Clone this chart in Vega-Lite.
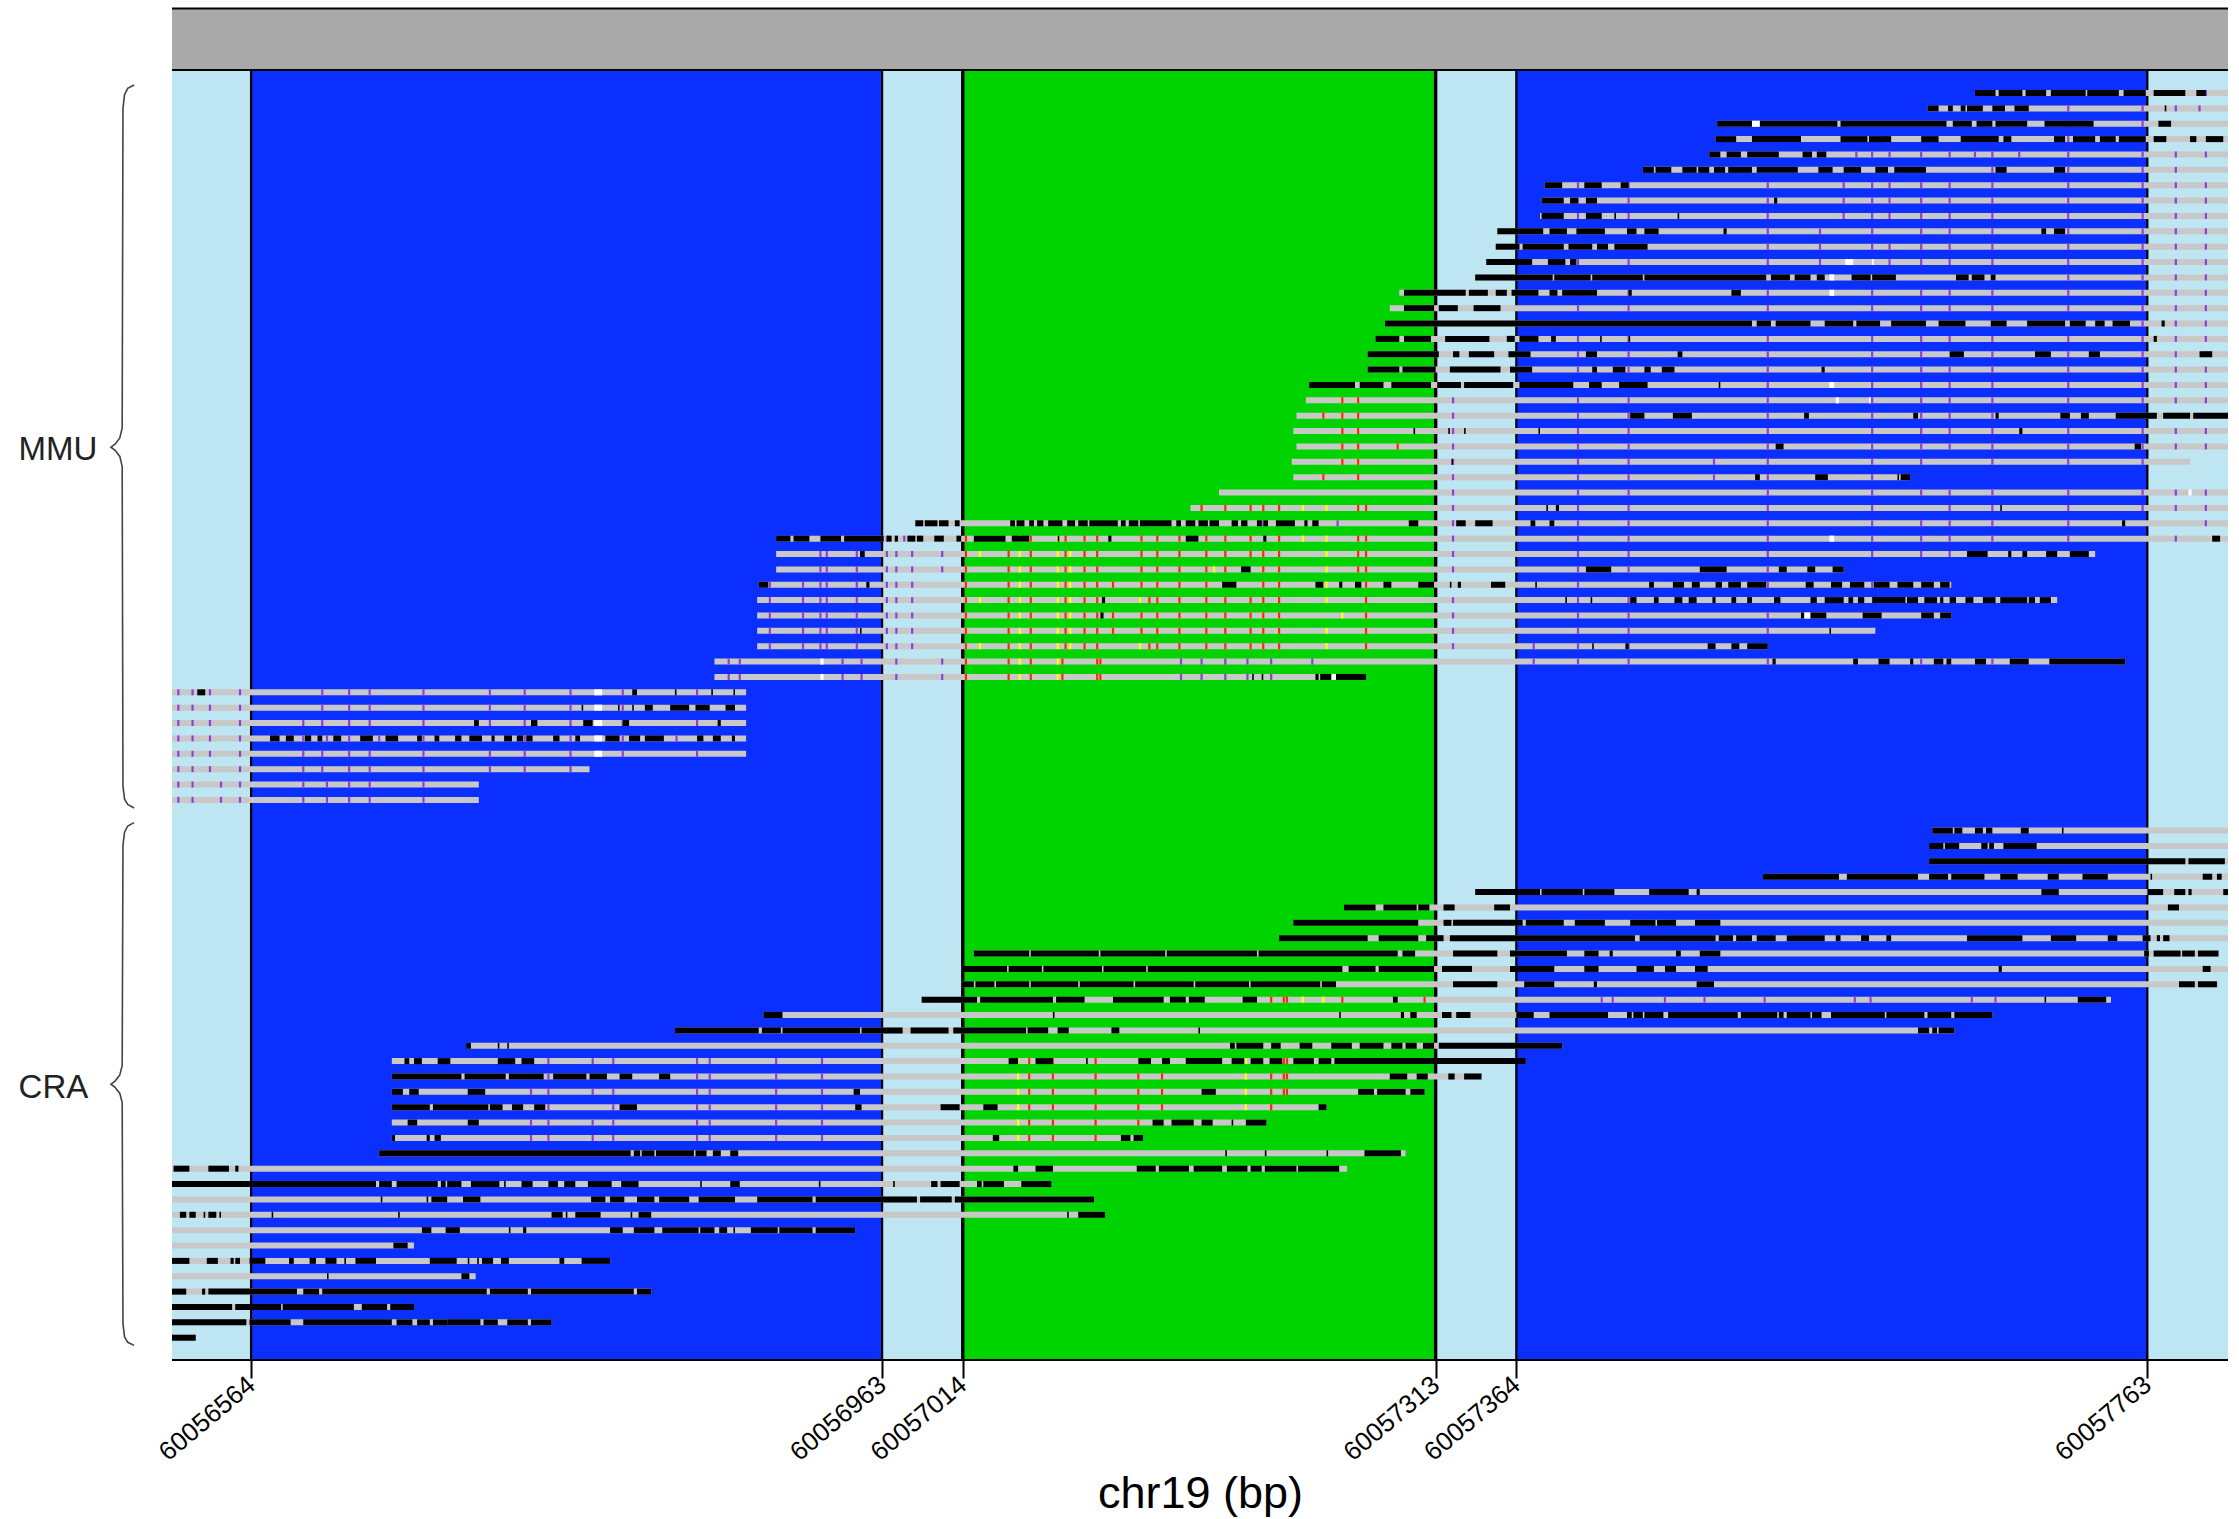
{"$schema":"https://vega.github.io/schema/vega-lite/v6.json","autosize":{"type":"none"},"padding":{"left":172,"top":8.5,"right":11,"bottom":159},"width":2056,"height":1351.5,"background":"white","view":{"stroke":null},
"datasets":{
"regions":[{"s":60056514,"e":60057814,"r":-5.5,"b":-1.5,"kind":"header"},{"s":60056514,"e":60056564,"r":-1.5,"b":82.45,"kind":"flank"},{"s":60056564,"e":60056963,"r":-1.5,"b":82.45,"kind":"outer"},{"s":60056963,"e":60057014,"r":-1.5,"b":82.45,"kind":"flank"},{"s":60057014,"e":60057313,"r":-1.5,"b":82.45,"kind":"core"},{"s":60057313,"e":60057364,"r":-1.5,"b":82.45,"kind":"flank"},{"s":60057364,"e":60057763,"r":-1.5,"b":82.45,"kind":"outer"},{"s":60057763,"e":60057814,"r":-1.5,"b":82.45,"kind":"flank"}],
"frame":[{"s":60056514,"e":60057814,"r":-5.5},{"s":60056514,"e":60057814,"r":-1.5},{"s":60056514,"e":60057814,"r":82.45}],
"thin":[{"s":60056564,"r":-1.5,"b":82.45},{"s":60056963,"r":-1.5,"b":82.45},{"s":60057364,"r":-1.5,"b":82.45},{"s":60057763,"r":-1.5,"b":82.45}],
"thick":[{"s":60057014,"r":-1.5,"b":82.45},{"s":60057313,"r":-1.5,"b":82.45}],
"labels":[{"label":"MMU","s":60056417,"r":23.25},{"label":"CRA","s":60056417,"r":64.75}],
"brace":[{"g":"MMU","o":1,"s":60056490,"r":-0.52},{"g":"MMU","o":2,"s":60056486,"r":-0.3},{"g":"MMU","o":3,"s":60056484,"r":0.1},{"g":"MMU","o":4,"s":60056483,"r":1},{"g":"MMU","o":5,"s":60056482.5,"r":21.8},{"g":"MMU","o":6,"s":60056481,"r":22.45},{"g":"MMU","o":7,"s":60056478,"r":22.85},{"g":"MMU","o":8,"s":60056475.4,"r":23.05},{"g":"MMU","o":9,"s":60056478,"r":23.25},{"g":"MMU","o":10,"s":60056481,"r":23.65},{"g":"MMU","o":11,"s":60056482.5,"r":24.3},{"g":"MMU","o":12,"s":60056483,"r":45.1},{"g":"MMU","o":13,"s":60056484,"r":45.95},{"g":"MMU","o":14,"s":60056486,"r":46.3},{"g":"MMU","o":15,"s":60056490,"r":46.53},{"g":"CRA","o":1,"s":60056490,"r":47.48},{"g":"CRA","o":2,"s":60056486,"r":47.7},{"g":"CRA","o":3,"s":60056484,"r":48.1},{"g":"CRA","o":4,"s":60056483,"r":48.95},{"g":"CRA","o":5,"s":60056482.5,"r":63.3},{"g":"CRA","o":6,"s":60056481,"r":63.9},{"g":"CRA","o":7,"s":60056478,"r":64.3},{"g":"CRA","o":8,"s":60056475.4,"r":64.5},{"g":"CRA","o":9,"s":60056478,"r":64.7},{"g":"CRA","o":10,"s":60056481,"r":65.1},{"g":"CRA","o":11,"s":60056482.5,"r":65.7},{"g":"CRA","o":12,"s":60056483,"r":80.1},{"g":"CRA","o":13,"s":60056484,"r":80.95},{"g":"CRA","o":14,"s":60056486,"r":81.3},{"g":"CRA","o":15,"s":60056490,"r":81.5}],
"reads":[{"r":0,"s":60057654,"e":60057814},{"r":1,"s":60057624,"e":60057814},{"r":2,"s":60057491,"e":60057814},{"r":3,"s":60057490,"e":60057814},{"r":4,"s":60057486,"e":60057814},{"r":5,"s":60057444,"e":60057814},{"r":6,"s":60057382,"e":60057814},{"r":7,"s":60057380,"e":60057814},{"r":8,"s":60057379,"e":60057814},{"r":9,"s":60057352,"e":60057814},{"r":10,"s":60057351,"e":60057814},{"r":11,"s":60057345,"e":60057814},{"r":12,"s":60057338,"e":60057814},{"r":13,"s":60057290,"e":60057814},{"r":14,"s":60057284,"e":60057814},{"r":15,"s":60057281,"e":60057814},{"r":16,"s":60057275,"e":60057814},{"r":17,"s":60057270,"e":60057814},{"r":18,"s":60057270,"e":60057814},{"r":19,"s":60057233,"e":60057814},{"r":20,"s":60057231,"e":60057814},{"r":21,"s":60057225,"e":60057814},{"r":22,"s":60057223,"e":60057814},{"r":23,"s":60057225,"e":60057814},{"r":24,"s":60057222,"e":60057790},{"r":25,"s":60057223,"e":60057613},{"r":26,"s":60057176,"e":60057814},{"r":27,"s":60057158,"e":60057814},{"r":28,"s":60056984,"e":60057814},{"r":29,"s":60056896,"e":60057814},{"r":30,"s":60056896,"e":60057730},{"r":31,"s":60056896,"e":60057571},{"r":32,"s":60056885,"e":60057639},{"r":33,"s":60056884,"e":60057706},{"r":34,"s":60056884,"e":60057639},{"r":35,"s":60056884,"e":60057591},{"r":36,"s":60056884,"e":60057523},{"r":37,"s":60056857,"e":60057749},{"r":38,"s":60056857,"e":60057269},{"r":39,"s":60056514,"e":60056877},{"r":40,"s":60056514,"e":60056877},{"r":41,"s":60056514,"e":60056877},{"r":42,"s":60056514,"e":60056877},{"r":43,"s":60056514,"e":60056877},{"r":44,"s":60056514,"e":60056778},{"r":45,"s":60056514,"e":60056708},{"r":46,"s":60056514,"e":60056708},{"r":48,"s":60057627,"e":60057814},{"r":49,"s":60057625,"e":60057814},{"r":50,"s":60057625,"e":60057814},{"r":51,"s":60057520,"e":60057814},{"r":52,"s":60057338,"e":60057814},{"r":53,"s":60057255,"e":60057814},{"r":54,"s":60057223,"e":60057814},{"r":55,"s":60057214,"e":60057814},{"r":56,"s":60057021,"e":60057808},{"r":57,"s":60057013,"e":60057814},{"r":58,"s":60057013,"e":60057808},{"r":59,"s":60056988,"e":60057740},{"r":60,"s":60056888,"e":60057665},{"r":61,"s":60056832,"e":60057641},{"r":62,"s":60056700,"e":60057393},{"r":63,"s":60056653,"e":60057370},{"r":64,"s":60056653,"e":60057342},{"r":65,"s":60056653,"e":60057306},{"r":66,"s":60056653,"e":60057244},{"r":67,"s":60056653,"e":60057206},{"r":68,"s":60056653,"e":60057128},{"r":69,"s":60056645,"e":60057294},{"r":70,"s":60056514,"e":60057257},{"r":71,"s":60056514,"e":60057070},{"r":72,"s":60056514,"e":60057097},{"r":73,"s":60056514,"e":60057104},{"r":74,"s":60056514,"e":60056946},{"r":75,"s":60056514,"e":60056667},{"r":76,"s":60056514,"e":60056791},{"r":77,"s":60056514,"e":60056706},{"r":78,"s":60056514,"e":60056817},{"r":79,"s":60056514,"e":60056667},{"r":80,"s":60056514,"e":60056754},{"r":81,"s":60056514,"e":60056529}],
"white":[{"r":11,"s":60057572,"e":60057577},{"r":11,"s":60057589,"e":60057590},{"r":12,"s":60057562,"e":60057565},{"r":13,"s":60057562,"e":60057565},{"r":19,"s":60057562,"e":60057565},{"r":20,"s":60057566,"e":60057568},{"r":20,"s":60057587,"e":60057588},{"r":26,"s":60057789,"e":60057791},{"r":29,"s":60057562,"e":60057565},{"r":34,"s":60057546,"e":60057550},{"r":38,"s":60056924,"e":60056926},{"r":37,"s":60056924,"e":60056926},{"r":38,"s":60057247,"e":60057250},{"r":39,"s":60056781,"e":60056786},{"r":40,"s":60056781,"e":60056786},{"r":41,"s":60056781,"e":60056786},{"r":42,"s":60056781,"e":60056786},{"r":43,"s":60056781,"e":60056786},{"r":2,"s":60057513,"e":60057518}],
"black":[{"r":0,"s":60057654,"e":60057667},{"r":0,"s":60057669,"e":60057684},{"r":0,"s":60057686,"e":60057699},{"r":0,"s":60057702,"e":60057724},{"r":0,"s":60057725,"e":60057745},{"r":0,"s":60057748,"e":60057762},{"r":0,"s":60057767,"e":60057787},{"r":0,"s":60057794,"e":60057800},
{"r":1,"s":60057624,"e":60057631},{"r":1,"s":60057637,"e":60057640},{"r":1,"s":60057645,"e":60057648},{"r":1,"s":60057649,"e":60057659},{"r":1,"s":60057665,"e":60057673},{"r":1,"s":60057679,"e":60057688},{"r":1,"s":60057774,"e":60057775},
{"r":2,"s":60057491,"e":60057513},{"r":2,"s":60057518,"e":60057567},{"r":2,"s":60057569,"e":60057636},{"r":2,"s":60057640,"e":60057652},{"r":2,"s":60057655,"e":60057665},{"r":2,"s":60057667,"e":60057687},{"r":2,"s":60057698,"e":60057729},{"r":2,"s":60057770,"e":60057778},
{"r":3,"s":60057490,"e":60057503},{"r":3,"s":60057513,"e":60057544},{"r":3,"s":60057569,"e":60057586},{"r":3,"s":60057587,"e":60057601},{"r":3,"s":60057620,"e":60057631},{"r":3,"s":60057645,"e":60057669},{"r":3,"s":60057672,"e":60057677},{"r":3,"s":60057704,"e":60057711},{"r":3,"s":60057716,"e":60057730},{"r":3,"s":60057733,"e":60057743},{"r":3,"s":60057745,"e":60057762},{"r":3,"s":60057767,"e":60057775},{"r":3,"s":60057790,"e":60057794},{"r":3,"s":60057800,"e":60057811},
{"r":4,"s":60057486,"e":60057493},{"r":4,"s":60057497,"e":60057506},{"r":4,"s":60057510,"e":60057530},{"r":4,"s":60057545,"e":60057551},{"r":4,"s":60057554,"e":60057560},
{"r":5,"s":60057444,"e":60057451},{"r":5,"s":60057452,"e":60057462},{"r":5,"s":60057469,"e":60057478},{"r":5,"s":60057479,"e":60057486},{"r":5,"s":60057489,"e":60057496},{"r":5,"s":60057498,"e":60057513},{"r":5,"s":60057516,"e":60057542},{"r":5,"s":60057555,"e":60057564},{"r":5,"s":60057571,"e":60057582},{"r":5,"s":60057591,"e":60057599},{"r":5,"s":60057603,"e":60057623},{"r":5,"s":60057667,"e":60057674},{"r":5,"s":60057704,"e":60057711},
{"r":6,"s":60057382,"e":60057393},{"r":6,"s":60057407,"e":60057418},{"r":6,"s":60057430,"e":60057435},
{"r":7,"s":60057380,"e":60057394},{"r":7,"s":60057398,"e":60057403},{"r":7,"s":60057408,"e":60057415},{"r":7,"s":60057527,"e":60057529},
{"r":8,"s":60057380,"e":60057394},{"r":8,"s":60057408,"e":60057418},{"r":8,"s":60057426,"e":60057427},{"r":8,"s":60057466,"e":60057467},
{"r":9,"s":60057352,"e":60057381},{"r":9,"s":60057385,"e":60057396},{"r":9,"s":60057402,"e":60057420},{"r":9,"s":60057434,"e":60057440},{"r":9,"s":60057445,"e":60057454},{"r":9,"s":60057495,"e":60057497},{"r":9,"s":60057696,"e":60057699},{"r":9,"s":60057704,"e":60057711},
{"r":10,"s":60057351,"e":60057366},{"r":10,"s":60057368,"e":60057394},{"r":10,"s":60057397,"e":60057412},{"r":10,"s":60057415,"e":60057422},{"r":10,"s":60057426,"e":60057447},
{"r":11,"s":60057345,"e":60057374},{"r":11,"s":60057384,"e":60057395},{"r":11,"s":60057398,"e":60057402},
{"r":12,"s":60057338,"e":60057387},{"r":12,"s":60057388,"e":60057411},{"r":12,"s":60057412,"e":60057444},{"r":12,"s":60057445,"e":60057522},{"r":12,"s":60057525,"e":60057537},{"r":12,"s":60057540,"e":60057550},{"r":12,"s":60057554,"e":60057559},{"r":12,"s":60057576,"e":60057588},{"r":12,"s":60057589,"e":60057604},{"r":12,"s":60057642,"e":60057650},{"r":12,"s":60057652,"e":60057660},{"r":12,"s":60057664,"e":60057667},
{"r":13,"s":60057293,"e":60057332},{"r":13,"s":60057334,"e":60057346},{"r":13,"s":60057351,"e":60057358},{"r":13,"s":60057361,"e":60057378},{"r":13,"s":60057385,"e":60057390},{"r":13,"s":60057393,"e":60057415},{"r":13,"s":60057435,"e":60057437},{"r":13,"s":60057500,"e":60057506},
{"r":14,"s":60057293,"e":60057312},{"r":14,"s":60057315,"e":60057327},{"r":14,"s":60057337,"e":60057354},
{"r":15,"s":60057281,"e":60057513},{"r":15,"s":60057516,"e":60057525},{"r":15,"s":60057528,"e":60057550},{"r":15,"s":60057559,"e":60057577},{"r":15,"s":60057579,"e":60057594},{"r":15,"s":60057601,"e":60057623},{"r":15,"s":60057631,"e":60057648},{"r":15,"s":60057664,"e":60057674},{"r":15,"s":60057687,"e":60057711},{"r":15,"s":60057714,"e":60057724},{"r":15,"s":60057730,"e":60057736},{"r":15,"s":60057741,"e":60057752},{"r":15,"s":60057772,"e":60057774},
{"r":16,"s":60057275,"e":60057290},{"r":16,"s":60057293,"e":60057310},{"r":16,"s":60057319,"e":60057347},{"r":16,"s":60057358,"e":60057363},{"r":16,"s":60057366,"e":60057378},{"r":16,"s":60057386,"e":60057389},{"r":16,"s":60057417,"e":60057418},{"r":16,"s":60057435,"e":60057436},{"r":16,"s":60057767,"e":60057769},
{"r":17,"s":60057270,"e":60057315},{"r":17,"s":60057324,"e":60057328},{"r":17,"s":60057334,"e":60057350},{"r":17,"s":60057359,"e":60057373},{"r":17,"s":60057408,"e":60057415},{"r":17,"s":60057466,"e":60057469},{"r":17,"s":60057638,"e":60057647},{"r":17,"s":60057692,"e":60057702},{"r":17,"s":60057726,"e":60057733},{"r":17,"s":60057796,"e":60057804},
{"r":18,"s":60057270,"e":60057290},{"r":18,"s":60057292,"e":60057313},{"r":18,"s":60057322,"e":60057354},{"r":18,"s":60057360,"e":60057374},{"r":18,"s":60057412,"e":60057415},{"r":18,"s":60057425,"e":60057433},{"r":18,"s":60057445,"e":60057449},{"r":18,"s":60057456,"e":60057464},{"r":18,"s":60057557,"e":60057559},
{"r":19,"s":60057233,"e":60057262},{"r":19,"s":60057265,"e":60057280},{"r":19,"s":60057285,"e":60057310},{"r":19,"s":60057314,"e":60057329},{"r":19,"s":60057331,"e":60057362},{"r":19,"s":60057366,"e":60057400},{"r":19,"s":60057410,"e":60057418},{"r":19,"s":60057429,"e":60057447},{"r":19,"s":60057492,"e":60057493},
{"r":21,"s":60057436,"e":60057445},{"r":21,"s":60057463,"e":60057475},{"r":21,"s":60057546,"e":60057549},{"r":21,"s":60057615,"e":60057618},{"r":21,"s":60057667,"e":60057669},{"r":21,"s":60057708,"e":60057714},{"r":21,"s":60057721,"e":60057726},{"r":21,"s":60057743,"e":60057769},{"r":21,"s":60057773,"e":60057790},{"r":21,"s":60057792,"e":60057814},
{"r":22,"s":60057299,"e":60057300},{"r":22,"s":60057321,"e":60057322},{"r":22,"s":60057331,"e":60057332},{"r":22,"s":60057378,"e":60057379},{"r":22,"s":60057682,"e":60057684},
{"r":23,"s":60057528,"e":60057533},{"r":23,"s":60057755,"e":60057759},{"r":24,"s":60057323,"e":60057324},
{"r":25,"s":60057515,"e":60057518},{"r":25,"s":60057553,"e":60057561},{"r":25,"s":60057605,"e":60057606},{"r":25,"s":60057607,"e":60057613},
{"r":27,"s":60057383,"e":60057384},{"r":27,"s":60057389,"e":60057391},{"r":27,"s":60057670,"e":60057671},
{"r":28,"s":60056984,"e":60056989},{"r":28,"s":60056990,"e":60056998},{"r":28,"s":60056999,"e":60057005},{"r":28,"s":60057009,"e":60057012},{"r":28,"s":60057044,"e":60057047},{"r":28,"s":60057048,"e":60057053},{"r":28,"s":60057056,"e":60057059},{"r":28,"s":60057061,"e":60057065},{"r":28,"s":60057068,"e":60057077},{"r":28,"s":60057080,"e":60057085},{"r":28,"s":60057087,"e":60057093},{"r":28,"s":60057094,"e":60057112},{"r":28,"s":60057114,"e":60057117},{"r":28,"s":60057119,"e":60057125},{"r":28,"s":60057126,"e":60057146},{"r":28,"s":60057149,"e":60057152},{"r":28,"s":60057155,"e":60057161},{"r":28,"s":60057163,"e":60057169},{"r":28,"s":60057170,"e":60057176},{"r":28,"s":60057184,"e":60057188},{"r":28,"s":60057190,"e":60057194},{"r":28,"s":60057200,"e":60057203},{"r":28,"s":60057204,"e":60057207},{"r":28,"s":60057212,"e":60057224},{"r":28,"s":60057230,"e":60057232},{"r":28,"s":60057235,"e":60057239},{"r":28,"s":60057296,"e":60057302},{"r":28,"s":60057326,"e":60057332},{"r":28,"s":60057338,"e":60057349},{"r":28,"s":60057373,"e":60057376},{"r":28,"s":60057385,"e":60057388},{"r":28,"s":60057747,"e":60057749},
{"r":29,"s":60056896,"e":60056905},{"r":29,"s":60056907,"e":60056917},{"r":29,"s":60056924,"e":60056937},{"r":29,"s":60056939,"e":60056964},{"r":29,"s":60056966,"e":60056969},{"r":29,"s":60056971,"e":60056973},{"r":29,"s":60056979,"e":60056984},{"r":29,"s":60056985,"e":60056989},{"r":29,"s":60056996,"e":60057002},{"r":29,"s":60057010,"e":60057013},{"r":29,"s":60057021,"e":60057041},{"r":29,"s":60057045,"e":60057056},{"r":29,"s":60057074,"e":60057075},{"r":29,"s":60057106,"e":60057108},{"r":29,"s":60057155,"e":60057163},{"r":29,"s":60057204,"e":60057206},{"r":29,"s":60057804,"e":60057809},
{"r":30,"s":60056949,"e":60056952},{"r":30,"s":60057649,"e":60057662},{"r":30,"s":60057675,"e":60057677},{"r":30,"s":60057684,"e":60057687},{"r":30,"s":60057699,"e":60057706},{"r":30,"s":60057714,"e":60057726},
{"r":31,"s":60057190,"e":60057196},{"r":31,"s":60057408,"e":60057424},{"r":31,"s":60057480,"e":60057497},{"r":31,"s":60057530,"e":60057535},{"r":31,"s":60057548,"e":60057553},{"r":31,"s":60057564,"e":60057571},
{"r":32,"s":60056885,"e":60056891},{"r":32,"s":60056953,"e":60056955},{"r":32,"s":60057178,"e":60057187},{"r":32,"s":60057237,"e":60057242},{"r":32,"s":60057252,"e":60057254},{"r":32,"s":60057262,"e":60057266},{"r":32,"s":60057280,"e":60057285},{"r":32,"s":60057302,"e":60057312},{"r":32,"s":60057322,"e":60057323},{"r":32,"s":60057327,"e":60057329},{"r":32,"s":60057348,"e":60057357},{"r":32,"s":60057376,"e":60057377},{"r":32,"s":60057448,"e":60057451},{"r":32,"s":60057463,"e":60057470},{"r":32,"s":60057475,"e":60057480},{"r":32,"s":60057490,"e":60057494},{"r":32,"s":60057498,"e":60057506},{"r":32,"s":60057510,"e":60057522},{"r":32,"s":60057547,"e":60057552},{"r":32,"s":60057563,"e":60057570},{"r":32,"s":60057575,"e":60057584},{"r":32,"s":60057590,"e":60057600},{"r":32,"s":60057605,"e":60057615},{"r":32,"s":60057620,"e":60057628},{"r":32,"s":60057632,"e":60057638},
{"r":33,"s":60057102,"e":60057104},{"r":33,"s":60057395,"e":60057396},{"r":33,"s":60057411,"e":60057412},{"r":33,"s":60057436,"e":60057440},{"r":33,"s":60057451,"e":60057454},{"r":33,"s":60057464,"e":60057469},{"r":33,"s":60057473,"e":60057478},{"r":33,"s":60057488,"e":60057490},{"r":33,"s":60057500,"e":60057503},{"r":33,"s":60057510,"e":60057513},{"r":33,"s":60057527,"e":60057531},{"r":33,"s":60057550,"e":60057554},{"r":33,"s":60057559,"e":60057571},{"r":33,"s":60057574,"e":60057577},{"r":33,"s":60057580,"e":60057584},{"r":33,"s":60057589,"e":60057610},{"r":33,"s":60057611,"e":60057618},{"r":33,"s":60057622,"e":60057630},{"r":33,"s":60057632,"e":60057634},{"r":33,"s":60057638,"e":60057642},{"r":33,"s":60057648,"e":60057653},{"r":33,"s":60057659,"e":60057667},{"r":33,"s":60057670,"e":60057687},{"r":33,"s":60057688,"e":60057692},{"r":33,"s":60057695,"e":60057702},
{"r":34,"s":60057544,"e":60057546},{"r":34,"s":60057550,"e":60057560},{"r":34,"s":60057583,"e":60057595},{"r":34,"s":60057620,"e":60057628},{"r":34,"s":60057632,"e":60057639},{"r":34,"s":60057101,"e":60057103},
{"r":35,"s":60057562,"e":60057563},{"r":35,"s":60056949,"e":60056950},
{"r":36,"s":60057412,"e":60057413},{"r":36,"s":60057433,"e":60057435},{"r":36,"s":60057485,"e":60057490},{"r":36,"s":60057500,"e":60057505},{"r":36,"s":60057510,"e":60057523},
{"r":37,"s":60057526,"e":60057528},{"r":37,"s":60057577,"e":60057580},{"r":37,"s":60057593,"e":60057600},{"r":37,"s":60057613,"e":60057615},{"r":37,"s":60057628,"e":60057634},{"r":37,"s":60057636,"e":60057639},{"r":37,"s":60057654,"e":60057661},{"r":37,"s":60057676,"e":60057688},{"r":37,"s":60057701,"e":60057749},
{"r":38,"s":60057197,"e":60057198},{"r":38,"s":60057203,"e":60057204},{"r":38,"s":60057237,"e":60057239},{"r":38,"s":60057240,"e":60057247},{"r":38,"s":60057250,"e":60057269},
{"r":39,"s":60056530,"e":60056535},{"r":39,"s":60056805,"e":60056808},{"r":39,"s":60056832,"e":60056833},{"r":39,"s":60056855,"e":60056856},{"r":39,"s":60056869,"e":60056870},
{"r":40,"s":60056773,"e":60056774},{"r":40,"s":60056796,"e":60056797},{"r":40,"s":60056805,"e":60056806},{"r":40,"s":60056813,"e":60056818},{"r":40,"s":60056829,"e":60056841},{"r":40,"s":60056845,"e":60056854},{"r":40,"s":60056864,"e":60056870},
{"r":41,"s":60056705,"e":60056708},{"r":41,"s":60056741,"e":60056745},{"r":41,"s":60056774,"e":60056780},{"r":41,"s":60056799,"e":60056803},{"r":41,"s":60056859,"e":60056861},
{"r":42,"s":60056576,"e":60056582},{"r":42,"s":60056586,"e":60056591},{"r":42,"s":60056598,"e":60056602},{"r":42,"s":60056606,"e":60056609},{"r":42,"s":60056616,"e":60056621},{"r":42,"s":60056633,"e":60056641},{"r":42,"s":60056649,"e":60056657},{"r":42,"s":60056669,"e":60056672},{"r":42,"s":60056680,"e":60056683},{"r":42,"s":60056693,"e":60056697},{"r":42,"s":60056702,"e":60056710},{"r":42,"s":60056716,"e":60056718},{"r":42,"s":60056724,"e":60056729},{"r":42,"s":60056732,"e":60056736},{"r":42,"s":60056738,"e":60056742},{"r":42,"s":60056755,"e":60056759},{"r":42,"s":60056769,"e":60056772},{"r":42,"s":60056788,"e":60056797},{"r":42,"s":60056803,"e":60056810},{"r":42,"s":60056813,"e":60056825},{"r":42,"s":60056846,"e":60056850},{"r":42,"s":60056856,"e":60056861},{"r":42,"s":60056868,"e":60056870},
{"r":48,"s":60057627,"e":60057640},{"r":48,"s":60057641,"e":60057646},{"r":48,"s":60057654,"e":60057659},{"r":48,"s":60057661,"e":60057665},{"r":48,"s":60057683,"e":60057688},{"r":48,"s":60057709,"e":60057710},
{"r":49,"s":60057625,"e":60057634},{"r":49,"s":60057635,"e":60057644},{"r":49,"s":60057658,"e":60057662},{"r":49,"s":60057663,"e":60057666},{"r":49,"s":60057672,"e":60057693},
{"r":50,"s":60057625,"e":60057787},{"r":50,"s":60057789,"e":60057812},
{"r":51,"s":60057520,"e":60057568},{"r":51,"s":60057573,"e":60057618},{"r":51,"s":60057625,"e":60057637},{"r":51,"s":60057639,"e":60057660},{"r":51,"s":60057670,"e":60057681},{"r":51,"s":60057700,"e":60057707},{"r":51,"s":60057722,"e":60057738},{"r":51,"s":60057765,"e":60057766},{"r":51,"s":60057798,"e":60057804},{"r":51,"s":60057807,"e":60057810},
{"r":52,"s":60057338,"e":60057379},{"r":52,"s":60057380,"e":60057406},{"r":52,"s":60057407,"e":60057426},{"r":52,"s":60057448,"e":60057473},{"r":52,"s":60057478,"e":60057480},{"r":52,"s":60057696,"e":60057707},{"r":52,"s":60057763,"e":60057773},{"r":52,"s":60057780,"e":60057787},{"r":52,"s":60057789,"e":60057791},{"r":52,"s":60057811,"e":60057814},
{"r":53,"s":60057255,"e":60057275},{"r":53,"s":60057280,"e":60057301},{"r":53,"s":60057302,"e":60057309},{"r":53,"s":60057318,"e":60057325},{"r":53,"s":60057350,"e":60057360},{"r":53,"s":60057776,"e":60057783},
{"r":54,"s":60057223,"e":60057302},{"r":54,"s":60057318,"e":60057323},{"r":54,"s":60057324,"e":60057368},{"r":54,"s":60057370,"e":60057394},{"r":54,"s":60057401,"e":60057420},{"r":54,"s":60057436,"e":60057452},{"r":54,"s":60057453,"e":60057465},{"r":54,"s":60057477,"e":60057493},
{"r":55,"s":60057214,"e":60057270},{"r":55,"s":60057277,"e":60057302},{"r":55,"s":60057307,"e":60057318},{"r":55,"s":60057322,"e":60057439},{"r":55,"s":60057442,"e":60057490},{"r":55,"s":60057492,"e":60057501},{"r":55,"s":60057503,"e":60057513},{"r":55,"s":60057516,"e":60057528},{"r":55,"s":60057535,"e":60057559},{"r":55,"s":60057566,"e":60057569},{"r":55,"s":60057582,"e":60057587},{"r":55,"s":60057598,"e":60057601},{"r":55,"s":60057649,"e":60057684},{"r":55,"s":60057702,"e":60057718},{"r":55,"s":60057738,"e":60057744},{"r":55,"s":60057760,"e":60057765},{"r":55,"s":60057769,"e":60057771},{"r":55,"s":60057773,"e":60057777},
{"r":56,"s":60057021,"e":60057056},{"r":56,"s":60057057,"e":60057100},{"r":56,"s":60057101,"e":60057142},{"r":56,"s":60057143,"e":60057200},{"r":56,"s":60057201,"e":60057289},{"r":56,"s":60057292,"e":60057300},{"r":56,"s":60057324,"e":60057352},{"r":56,"s":60057360,"e":60057396},{"r":56,"s":60057407,"e":60057416},{"r":56,"s":60057423,"e":60057425},{"r":56,"s":60057465,"e":60057468},{"r":56,"s":60057480,"e":60057493},{"r":56,"s":60057761,"e":60057764},{"r":56,"s":60057767,"e":60057784},{"r":56,"s":60057785,"e":60057793},{"r":56,"s":60057795,"e":60057808},
{"r":57,"s":60057013,"e":60057042},{"r":57,"s":60057043,"e":60057064},{"r":57,"s":60057065,"e":60057102},{"r":57,"s":60057103,"e":60057130},{"r":57,"s":60057131,"e":60057254},{"r":57,"s":60057258,"e":60057275},{"r":57,"s":60057277,"e":60057312},{"r":57,"s":60057317,"e":60057336},{"r":57,"s":60057360,"e":60057388},{"r":57,"s":60057407,"e":60057416},{"r":57,"s":60057440,"e":60057451},{"r":57,"s":60057458,"e":60057465},{"r":57,"s":60057477,"e":60057485},{"r":57,"s":60057669,"e":60057671},{"r":57,"s":60057798,"e":60057803},
{"r":58,"s":60057013,"e":60057021},{"r":58,"s":60057022,"e":60057034},{"r":58,"s":60057035,"e":60057056},{"r":58,"s":60057057,"e":60057087},{"r":58,"s":60057088,"e":60057122},{"r":58,"s":60057123,"e":60057160},{"r":58,"s":60057161,"e":60057195},{"r":58,"s":60057196,"e":60057240},{"r":58,"s":60057241,"e":60057250},{"r":58,"s":60057324,"e":60057352},{"r":58,"s":60057369,"e":60057388},{"r":58,"s":60057413,"e":60057415},{"r":58,"s":60057478,"e":60057489},{"r":58,"s":60057783,"e":60057793},{"r":58,"s":60057795,"e":60057807},
{"r":59,"s":60056988,"e":60057023},{"r":59,"s":60057025,"e":60057071},{"r":59,"s":60057073,"e":60057091},{"r":59,"s":60057109,"e":60057141},{"r":59,"s":60057145,"e":60057155},{"r":59,"s":60057157,"e":60057167},{"r":59,"s":60057191,"e":60057200},{"r":59,"s":60057286,"e":60057289},{"r":59,"s":60057698,"e":60057699},{"r":59,"s":60057719,"e":60057737},
{"r":60,"s":60056888,"e":60056900},{"r":60,"s":60057071,"e":60057072},{"r":60,"s":60057252,"e":60057253},{"r":60,"s":60057291,"e":60057293},{"r":60,"s":60057297,"e":60057301},{"r":60,"s":60057317,"e":60057323},{"r":60,"s":60057326,"e":60057335},{"r":60,"s":60057364,"e":60057375},{"r":60,"s":60057385,"e":60057422},{"r":60,"s":60057434,"e":60057437},{"r":60,"s":60057438,"e":60057444},{"r":60,"s":60057445,"e":60057457},{"r":60,"s":60057460,"e":60057504},{"r":60,"s":60057506,"e":60057529},{"r":60,"s":60057530,"e":60057533},{"r":60,"s":60057535,"e":60057550},{"r":60,"s":60057551,"e":60057557},{"r":60,"s":60057563,"e":60057597},{"r":60,"s":60057598,"e":60057622},{"r":60,"s":60057624,"e":60057639},{"r":60,"s":60057641,"e":60057665},
{"r":61,"s":60056832,"e":60056885},{"r":61,"s":60056887,"e":60056899},{"r":61,"s":60056900,"e":60056949},{"r":61,"s":60056950,"e":60056976},{"r":61,"s":60056981,"e":60057005},{"r":61,"s":60057008,"e":60057054},{"r":61,"s":60057055,"e":60057068},{"r":61,"s":60057074,"e":60057081},{"r":61,"s":60057108,"e":60057113},{"r":61,"s":60057163,"e":60057164},{"r":61,"s":60057618,"e":60057625},{"r":61,"s":60057627,"e":60057630},{"r":61,"s":60057631,"e":60057641},
{"r":62,"s":60056700,"e":60056703},{"r":62,"s":60056720,"e":60056721},{"r":62,"s":60056726,"e":60056727},{"r":62,"s":60057183,"e":60057186},{"r":62,"s":60057187,"e":60057204},{"r":62,"s":60057209,"e":60057215},{"r":62,"s":60057227,"e":60057235},{"r":62,"s":60057247,"e":60057260},{"r":62,"s":60057265,"e":60057280},{"r":62,"s":60057285,"e":60057292},{"r":62,"s":60057294,"e":60057301},{"r":62,"s":60057305,"e":60057312},{"r":62,"s":60057315,"e":60057393},
{"r":63,"s":60056661,"e":60056664},{"r":63,"s":60056667,"e":60056672},{"r":63,"s":60056682,"e":60056690},{"r":63,"s":60056720,"e":60056731},{"r":63,"s":60056735,"e":60056743},{"r":63,"s":60057043,"e":60057049},{"r":63,"s":60057060,"e":60057071},{"r":63,"s":60057092,"e":60057093},{"r":63,"s":60057125,"e":60057133},{"r":63,"s":60057140,"e":60057145},{"r":63,"s":60057155,"e":60057178},{"r":63,"s":60057184,"e":60057192},{"r":63,"s":60057196,"e":60057204},{"r":63,"s":60057208,"e":60057216},{"r":63,"s":60057223,"e":60057236},{"r":63,"s":60057239,"e":60057247},{"r":63,"s":60057249,"e":60057370},
{"r":64,"s":60056653,"e":60056697},{"r":64,"s":60056699,"e":60056725},{"r":64,"s":60056727,"e":60056749},{"r":64,"s":60056755,"e":60056776},{"r":64,"s":60056778,"e":60056789},{"r":64,"s":60056797,"e":60056805},{"r":64,"s":60056822,"e":60056829},{"r":64,"s":60057284,"e":60057295},{"r":64,"s":60057301,"e":60057308},{"r":64,"s":60057321,"e":60057325},{"r":64,"s":60057331,"e":60057342},
{"r":65,"s":60056653,"e":60056660},{"r":65,"s":60056664,"e":60056670},{"r":65,"s":60056701,"e":60056712},{"r":65,"s":60056945,"e":60056949},{"r":65,"s":60057165,"e":60057174},{"r":65,"s":60057264,"e":60057274},{"r":65,"s":60057276,"e":60057294},{"r":65,"s":60057297,"e":60057306},
{"r":66,"s":60056653,"e":60056677},{"r":66,"s":60056679,"e":60056714},{"r":66,"s":60056715,"e":60056723},{"r":66,"s":60056729,"e":60056736},{"r":66,"s":60056743,"e":60056750},{"r":66,"s":60056797,"e":60056808},{"r":66,"s":60056946,"e":60056950},{"r":66,"s":60057000,"e":60057012},{"r":66,"s":60057027,"e":60057036},{"r":66,"s":60057239,"e":60057244},
{"r":67,"s":60056663,"e":60056669},{"r":67,"s":60056701,"e":60056708},{"r":67,"s":60057134,"e":60057141},{"r":67,"s":60057146,"e":60057160},{"r":67,"s":60057165,"e":60057172},{"r":67,"s":60057184,"e":60057185},{"r":67,"s":60057193,"e":60057206},
{"r":68,"s":60056653,"e":60056655},{"r":68,"s":60056675,"e":60056677},{"r":68,"s":60056680,"e":60056684},{"r":68,"s":60057033,"e":60057037},{"r":68,"s":60057114,"e":60057120},{"r":68,"s":60057122,"e":60057128},
{"r":69,"s":60056645,"e":60056804},{"r":69,"s":60056806,"e":60056810},{"r":69,"s":60056811,"e":60056819},{"r":69,"s":60056820,"e":60056844},{"r":69,"s":60056845,"e":60056852},{"r":69,"s":60056856,"e":60056861},{"r":69,"s":60056867,"e":60056872},{"r":69,"s":60057180,"e":60057181},{"r":69,"s":60057205,"e":60057206},{"r":69,"s":60057244,"e":60057245},{"r":69,"s":60057268,"e":60057291},
{"r":70,"s":60056515,"e":60056525},{"r":70,"s":60056537,"e":60056550},{"r":70,"s":60056554,"e":60056556},{"r":70,"s":60057046,"e":60057049},{"r":70,"s":60057060,"e":60057071},{"r":70,"s":60057124,"e":60057136},{"r":70,"s":60057138,"e":60057157},{"r":70,"s":60057160,"e":60057178},{"r":70,"s":60057181,"e":60057194},{"r":70,"s":60057196,"e":60057203},{"r":70,"s":60057205,"e":60057225},{"r":70,"s":60057226,"e":60057252},
{"r":71,"s":60056514,"e":60056643},{"r":71,"s":60056645,"e":60056653},{"r":71,"s":60056656,"e":60056682},{"r":71,"s":60056684,"e":60056687},{"r":71,"s":60056688,"e":60056697},{"r":71,"s":60056703,"e":60056721},{"r":71,"s":60056724,"e":60056725},{"r":71,"s":60056735,"e":60056742},{"r":71,"s":60056752,"e":60056758},{"r":71,"s":60056762,"e":60056769},{"r":71,"s":60056777,"e":60056792},{"r":71,"s":60056798,"e":60056809},{"r":71,"s":60056848,"e":60056849},{"r":71,"s":60056867,"e":60056873},{"r":71,"s":60056923,"e":60056924},{"r":71,"s":60056970,"e":60056971},{"r":71,"s":60056994,"e":60056998},{"r":71,"s":60057000,"e":60057012},{"r":71,"s":60057023,"e":60057026},{"r":71,"s":60057027,"e":60057040},{"r":71,"s":60057051,"e":60057070},
{"r":72,"s":60056646,"e":60056647},{"r":72,"s":60056675,"e":60056676},{"r":72,"s":60056678,"e":60056688},{"r":72,"s":60056698,"e":60056709},{"r":72,"s":60056779,"e":60056788},{"r":72,"s":60056791,"e":60056800},{"r":72,"s":60056808,"e":60056819},{"r":72,"s":60056822,"e":60056841},{"r":72,"s":60056847,"e":60056870},{"r":72,"s":60056884,"e":60056919},{"r":72,"s":60056921,"e":60056985},{"r":72,"s":60056987,"e":60057007},{"r":72,"s":60057009,"e":60057097},
{"r":73,"s":60056519,"e":60056523},{"r":73,"s":60056525,"e":60056529},{"r":73,"s":60056534,"e":60056535},{"r":73,"s":60056537,"e":60056542},{"r":73,"s":60056544,"e":60056545},{"r":73,"s":60056577,"e":60056578},{"r":73,"s":60056657,"e":60056658},{"r":73,"s":60056754,"e":60056761},{"r":73,"s":60056763,"e":60056764},{"r":73,"s":60056769,"e":60056785},{"r":73,"s":60056804,"e":60056805},{"r":73,"s":60056809,"e":60056817},{"r":73,"s":60057080,"e":60057081},{"r":73,"s":60057087,"e":60057104},
{"r":74,"s":60056672,"e":60056678},{"r":74,"s":60056687,"e":60056696},{"r":74,"s":60056727,"e":60056728},{"r":74,"s":60056736,"e":60056738},{"r":74,"s":60056791,"e":60056799},{"r":74,"s":60056806,"e":60056819},{"r":74,"s":60056824,"e":60056847},{"r":74,"s":60056848,"e":60056857},{"r":74,"s":60056860,"e":60056865},{"r":74,"s":60056869,"e":60056870},{"r":74,"s":60056880,"e":60056897},{"r":74,"s":60056898,"e":60056919},{"r":74,"s":60056921,"e":60056946},
{"r":75,"s":60056654,"e":60056663},
{"r":76,"s":60056514,"e":60056525},{"r":76,"s":60056536,"e":60056543},{"r":76,"s":60056551,"e":60056553},{"r":76,"s":60056554,"e":60056557},{"r":76,"s":60056563,"e":60056573},{"r":76,"s":60056588,"e":60056591},{"r":76,"s":60056601,"e":60056605},{"r":76,"s":60056611,"e":60056618},{"r":76,"s":60056623,"e":60056624},{"r":76,"s":60056630,"e":60056643},{"r":76,"s":60056677,"e":60056694},{"r":76,"s":60056701,"e":60056702},{"r":76,"s":60056707,"e":60056708},{"r":76,"s":60056710,"e":60056717},{"r":76,"s":60056722,"e":60056727},{"r":76,"s":60056759,"e":60056762},{"r":76,"s":60056773,"e":60056791},
{"r":77,"s":60056612,"e":60056613},{"r":77,"s":60056697,"e":60056702},
{"r":78,"s":60056514,"e":60056523},{"r":78,"s":60056533,"e":60056535},{"r":78,"s":60056537,"e":60056593},{"r":78,"s":60056597,"e":60056607},{"r":78,"s":60056609,"e":60056713},{"r":78,"s":60056715,"e":60056739},{"r":78,"s":60056741,"e":60056806},{"r":78,"s":60056808,"e":60056817},
{"r":79,"s":60056514,"e":60056552},{"r":79,"s":60056554,"e":60056583},{"r":79,"s":60056584,"e":60056629},{"r":79,"s":60056634,"e":60056650},{"r":79,"s":60056652,"e":60056667},
{"r":80,"s":60056514,"e":60056561},{"r":80,"s":60056563,"e":60056589},{"r":80,"s":60056597,"e":60056653},{"r":80,"s":60056656,"e":60056666},{"r":80,"s":60056669,"e":60056677},{"r":80,"s":60056679,"e":60056688},{"r":80,"s":60056688,"e":60056709},{"r":80,"s":60056711,"e":60056720},{"r":80,"s":60056726,"e":60056739},{"r":80,"s":60056741,"e":60056754},
{"r":81,"s":60056514,"e":60056529}],
"yellow":[{"r":29,"s":60057050},{"r":29,"s":60057074},{"r":29,"s":60057229},{"r":29,"s":60057244},{"r":30,"s":60057025},{"r":30,"s":60057050},{"r":30,"s":60057074},{"r":30,"s":60057082},{"r":30,"s":60057244},{"r":31,"s":60057050},{"r":31,"s":60057074},{"r":31,"s":60057082},{"r":31,"s":60057173},{"r":31,"s":60057244},{"r":32,"s":60057050},{"r":32,"s":60057074},{"r":32,"s":60057082},{"r":32,"s":60057244},{"r":33,"s":60057025},{"r":33,"s":60057050},{"r":33,"s":60057074},{"r":33,"s":60057082},{"r":33,"s":60057126},{"r":33,"s":60057244},{"r":34,"s":60057050},{"r":34,"s":60057074},{"r":34,"s":60057082},{"r":34,"s":60057254},{"r":35,"s":60057050},{"r":35,"s":60057074},{"r":35,"s":60057082},{"r":35,"s":60057244},{"r":36,"s":60057025},{"r":36,"s":60057050},{"r":36,"s":60057074},{"r":36,"s":60057082},{"r":36,"s":60057126},{"r":36,"s":60057244},{"r":37,"s":60057050},{"r":37,"s":60057074},{"r":38,"s":60057050},{"r":38,"s":60057074},{"r":27,"s":60057229},{"r":27,"s":60057244},{"r":63,"s":60057049},{"r":63,"s":60057193},{"r":64,"s":60057049},{"r":64,"s":60057193},{"r":65,"s":60057049},{"r":65,"s":60057193},{"r":66,"s":60057049},{"r":66,"s":60057193},{"r":67,"s":60057049},{"r":68,"s":60057049},{"r":59,"s":60057229},{"r":59,"s":60057242}],
"red":[{"r":29,"s":60057016},{"r":29,"s":60057057},{"r":29,"s":60057079},{"r":29,"s":60057091},{"r":29,"s":60057099},{"r":29,"s":60057127},{"r":29,"s":60057137},{"r":29,"s":60057151},{"r":29,"s":60057168},{"r":29,"s":60057180},{"r":29,"s":60057196},{"r":29,"s":60057214},{"r":29,"s":60057264},{"r":29,"s":60057269},
{"r":30,"s":60057016},{"r":30,"s":60057043},{"r":30,"s":60057057},{"r":30,"s":60057079},{"r":30,"s":60057091},{"r":30,"s":60057099},{"r":30,"s":60057127},{"r":30,"s":60057137},{"r":30,"s":60057151},{"r":30,"s":60057168},{"r":30,"s":60057180},{"r":30,"s":60057196},{"r":30,"s":60057204},{"r":30,"s":60057214},{"r":30,"s":60057264},{"r":30,"s":60057269},
{"r":31,"s":60057016},{"r":31,"s":60057043},{"r":31,"s":60057057},{"r":31,"s":60057079},{"r":31,"s":60057091},{"r":31,"s":60057099},{"r":31,"s":60057127},{"r":31,"s":60057137},{"r":31,"s":60057151},{"r":31,"s":60057168},{"r":31,"s":60057180},{"r":31,"s":60057204},{"r":31,"s":60057214},{"r":31,"s":60057264},{"r":31,"s":60057269},
{"r":32,"s":60057016},{"r":32,"s":60057043},{"r":32,"s":60057057},{"r":32,"s":60057079},{"r":32,"s":60057091},{"r":32,"s":60057099},{"r":32,"s":60057109},{"r":32,"s":60057127},{"r":32,"s":60057137},{"r":32,"s":60057151},{"r":32,"s":60057168},{"r":32,"s":60057204},{"r":32,"s":60057214},{"r":32,"s":60057269},
{"r":33,"s":60057016},{"r":33,"s":60057043},{"r":33,"s":60057057},{"r":33,"s":60057079},{"r":33,"s":60057091},{"r":33,"s":60057099},{"r":33,"s":60057132},{"r":33,"s":60057137},{"r":33,"s":60057151},{"r":33,"s":60057168},{"r":33,"s":60057180},{"r":33,"s":60057196},{"r":33,"s":60057204},{"r":33,"s":60057214},{"r":33,"s":60057269},
{"r":34,"s":60057016},{"r":34,"s":60057043},{"r":34,"s":60057057},{"r":34,"s":60057079},{"r":34,"s":60057091},{"r":34,"s":60057099},{"r":34,"s":60057109},{"r":34,"s":60057127},{"r":34,"s":60057137},{"r":34,"s":60057151},{"r":34,"s":60057168},{"r":34,"s":60057180},{"r":34,"s":60057196},{"r":34,"s":60057204},{"r":34,"s":60057214},{"r":34,"s":60057269},
{"r":35,"s":60057016},{"r":35,"s":60057043},{"r":35,"s":60057057},{"r":35,"s":60057079},{"r":35,"s":60057091},{"r":35,"s":60057099},{"r":35,"s":60057109},{"r":35,"s":60057127},{"r":35,"s":60057137},{"r":35,"s":60057151},{"r":35,"s":60057168},{"r":35,"s":60057180},{"r":35,"s":60057196},{"r":35,"s":60057204},{"r":35,"s":60057214},{"r":35,"s":60057269},
{"r":36,"s":60057016},{"r":36,"s":60057043},{"r":36,"s":60057057},{"r":36,"s":60057079},{"r":36,"s":60057091},{"r":36,"s":60057099},{"r":36,"s":60057132},{"r":36,"s":60057137},{"r":36,"s":60057151},{"r":36,"s":60057168},{"r":36,"s":60057180},{"r":36,"s":60057196},{"r":36,"s":60057204},{"r":36,"s":60057214},{"r":36,"s":60057269},
{"r":37,"s":60057016},{"r":37,"s":60057043},{"r":37,"s":60057057},{"r":37,"s":60057077},{"r":37,"s":60057099},{"r":37,"s":60057101},
{"r":38,"s":60057016},{"r":38,"s":60057043},{"r":38,"s":60057057},{"r":38,"s":60057077},{"r":38,"s":60057099},{"r":38,"s":60057101},
{"r":27,"s":60057165},{"r":27,"s":60057180},{"r":27,"s":60057196},{"r":27,"s":60057204},{"r":27,"s":60057214},{"r":27,"s":60057264},{"r":27,"s":60057269},
{"r":19,"s":60057250},{"r":20,"s":60057254},{"r":20,"s":60057264},{"r":21,"s":60057242},{"r":21,"s":60057254},{"r":21,"s":60057264},{"r":22,"s":60057254},{"r":22,"s":60057264},{"r":23,"s":60057254},{"r":23,"s":60057264},{"r":23,"s":60057289},{"r":24,"s":60057254},{"r":24,"s":60057264},{"r":25,"s":60057242},{"r":25,"s":60057264},
{"r":59,"s":60057209},{"r":59,"s":60057217},{"r":59,"s":60057219},{"r":59,"s":60057254},{"r":59,"s":60057306},
{"r":63,"s":60057056},{"r":63,"s":60057071},{"r":63,"s":60057098},{"r":63,"s":60057217},{"r":63,"s":60057219},
{"r":64,"s":60057056},{"r":64,"s":60057071},{"r":64,"s":60057098},{"r":64,"s":60057125},{"r":64,"s":60057140},{"r":64,"s":60057209},{"r":64,"s":60057217},{"r":64,"s":60057219},
{"r":65,"s":60057056},{"r":65,"s":60057071},{"r":65,"s":60057098},{"r":65,"s":60057125},{"r":65,"s":60057140},{"r":65,"s":60057209},{"r":65,"s":60057217},{"r":65,"s":60057219},
{"r":66,"s":60057056},{"r":66,"s":60057071},{"r":66,"s":60057098},{"r":66,"s":60057125},{"r":66,"s":60057140},{"r":66,"s":60057209},
{"r":67,"s":60057056},{"r":67,"s":60057071},{"r":67,"s":60057098},{"r":67,"s":60057125},
{"r":68,"s":60057056},{"r":68,"s":60057071},{"r":68,"s":60057098}],
"purple":[{"r":0,"s":60057781},{"r":0,"s":60057800},{"r":1,"s":60057713},{"r":1,"s":60057760},{"r":1,"s":60057781},{"r":1,"s":60057796},{"r":2,"s":60057713},{"r":2,"s":60057760},{"r":3,"s":60057713},{"r":3,"s":60057598},
{"r":4,"s":60057579},{"r":4,"s":60057589},{"r":4,"s":60057600},{"r":4,"s":60057620},{"r":4,"s":60057638},{"r":4,"s":60057654},{"r":4,"s":60057665},{"r":4,"s":60057682},{"r":4,"s":60057713},{"r":4,"s":60057760},{"r":4,"s":60057781},{"r":4,"s":60057800},
{"r":5,"s":60057665},{"r":5,"s":60057713},{"r":5,"s":60057760},{"r":5,"s":60057781},
{"r":6,"s":60057403},{"r":6,"s":60057435},{"r":6,"s":60057523},{"r":6,"s":60057571},{"r":6,"s":60057589},{"r":6,"s":60057600},{"r":6,"s":60057620},{"r":6,"s":60057638},{"r":6,"s":60057665},{"r":6,"s":60057713},{"r":6,"s":60057760},{"r":6,"s":60057781},{"r":6,"s":60057800},
{"r":7,"s":60057403},{"r":7,"s":60057435},{"r":7,"s":60057523},{"r":7,"s":60057571},{"r":7,"s":60057589},{"r":7,"s":60057600},{"r":7,"s":60057620},{"r":7,"s":60057638},{"r":7,"s":60057665},{"r":7,"s":60057713},{"r":7,"s":60057760},{"r":7,"s":60057781},{"r":7,"s":60057800},
{"r":8,"s":60057403},{"r":8,"s":60057435},{"r":8,"s":60057523},{"r":8,"s":60057571},{"r":8,"s":60057589},{"r":8,"s":60057600},{"r":8,"s":60057620},{"r":8,"s":60057638},{"r":8,"s":60057665},{"r":8,"s":60057713},{"r":8,"s":60057760},{"r":8,"s":60057781},{"r":8,"s":60057800},
{"r":9,"s":60057523},{"r":9,"s":60057556},{"r":9,"s":60057589},{"r":9,"s":60057620},{"r":9,"s":60057638},{"r":9,"s":60057665},{"r":9,"s":60057713},{"r":9,"s":60057760},{"r":9,"s":60057781},{"r":9,"s":60057800},
{"r":10,"s":60057523},{"r":10,"s":60057556},{"r":10,"s":60057589},{"r":10,"s":60057600},{"r":10,"s":60057620},{"r":10,"s":60057638},{"r":10,"s":60057665},{"r":10,"s":60057713},{"r":10,"s":60057760},{"r":10,"s":60057781},{"r":10,"s":60057800},
{"r":11,"s":60057403},{"r":11,"s":60057435},{"r":11,"s":60057523},{"r":11,"s":60057556},{"r":11,"s":60057600},{"r":11,"s":60057620},{"r":11,"s":60057638},{"r":11,"s":60057665},{"r":11,"s":60057713},{"r":11,"s":60057760},{"r":11,"s":60057781},{"r":11,"s":60057800},
{"r":12,"s":60057713},{"r":12,"s":60057760},{"r":12,"s":60057781},{"r":12,"s":60057800},
{"r":13,"s":60057403},{"r":13,"s":60057435},{"r":13,"s":60057523},{"r":13,"s":60057589},{"r":13,"s":60057620},{"r":13,"s":60057638},{"r":13,"s":60057665},{"r":13,"s":60057713},{"r":13,"s":60057760},{"r":13,"s":60057781},{"r":13,"s":60057800},
{"r":14,"s":60057403},{"r":14,"s":60057435},{"r":14,"s":60057523},{"r":14,"s":60057589},{"r":14,"s":60057620},{"r":14,"s":60057638},{"r":14,"s":60057665},{"r":14,"s":60057713},{"r":14,"s":60057760},{"r":14,"s":60057781},{"r":14,"s":60057800},
{"r":15,"s":60057760},{"r":15,"s":60057781},{"r":15,"s":60057800},
{"r":16,"s":60057403},{"r":16,"s":60057435},{"r":16,"s":60057523},{"r":16,"s":60057589},{"r":16,"s":60057620},{"r":16,"s":60057638},{"r":16,"s":60057665},{"r":16,"s":60057713},{"r":16,"s":60057760},{"r":16,"s":60057781},{"r":16,"s":60057800},
{"r":17,"s":60057403},{"r":17,"s":60057435},{"r":17,"s":60057523},{"r":17,"s":60057589},{"r":17,"s":60057620},{"r":17,"s":60057665},{"r":17,"s":60057713},{"r":17,"s":60057760},{"r":17,"s":60057781},{"r":17,"s":60057800},
{"r":18,"s":60057403},{"r":18,"s":60057435},{"r":18,"s":60057523},{"r":18,"s":60057589},{"r":18,"s":60057620},{"r":18,"s":60057638},{"r":18,"s":60057665},{"r":18,"s":60057713},{"r":18,"s":60057760},{"r":18,"s":60057781},{"r":18,"s":60057800},
{"r":19,"s":60057435},{"r":19,"s":60057523},{"r":19,"s":60057589},{"r":19,"s":60057620},{"r":19,"s":60057638},{"r":19,"s":60057665},{"r":19,"s":60057713},{"r":19,"s":60057760},{"r":19,"s":60057781},{"r":19,"s":60057800},
{"r":20,"s":60057324},{"r":20,"s":60057403},{"r":20,"s":60057435},{"r":20,"s":60057523},{"r":20,"s":60057589},{"r":20,"s":60057620},{"r":20,"s":60057638},{"r":20,"s":60057665},{"r":20,"s":60057713},{"r":20,"s":60057760},{"r":20,"s":60057781},{"r":20,"s":60057800},
{"r":21,"s":60057324},{"r":21,"s":60057403},{"r":21,"s":60057435},{"r":21,"s":60057523},{"r":21,"s":60057589},{"r":21,"s":60057620},{"r":21,"s":60057638},{"r":21,"s":60057665},{"r":21,"s":60057713},
{"r":22,"s":60057324},{"r":22,"s":60057403},{"r":22,"s":60057435},{"r":22,"s":60057523},{"r":22,"s":60057589},{"r":22,"s":60057620},{"r":22,"s":60057638},{"r":22,"s":60057665},{"r":22,"s":60057713},{"r":22,"s":60057760},{"r":22,"s":60057781},{"r":22,"s":60057800},
{"r":23,"s":60057324},{"r":23,"s":60057403},{"r":23,"s":60057435},{"r":23,"s":60057523},{"r":23,"s":60057589},{"r":23,"s":60057620},{"r":23,"s":60057638},{"r":23,"s":60057665},{"r":23,"s":60057713},{"r":23,"s":60057760},{"r":23,"s":60057781},{"r":23,"s":60057800},
{"r":24,"s":60057324},{"r":24,"s":60057403},{"r":24,"s":60057435},{"r":24,"s":60057489},{"r":24,"s":60057523},{"r":24,"s":60057589},{"r":24,"s":60057620},{"r":24,"s":60057665},{"r":24,"s":60057713},{"r":24,"s":60057760},
{"r":25,"s":60057324},{"r":25,"s":60057403},{"r":25,"s":60057435},{"r":25,"s":60057489},{"r":25,"s":60057523},{"r":25,"s":60057589},
{"r":26,"s":60057324},{"r":26,"s":60057403},{"r":26,"s":60057435},{"r":26,"s":60057523},{"r":26,"s":60057589},{"r":26,"s":60057620},{"r":26,"s":60057638},{"r":26,"s":60057665},{"r":26,"s":60057713},{"r":26,"s":60057760},{"r":26,"s":60057781},{"r":26,"s":60057800},
{"r":27,"s":60057324},{"r":27,"s":60057403},{"r":27,"s":60057435},{"r":27,"s":60057523},{"r":27,"s":60057589},{"r":27,"s":60057638},{"r":27,"s":60057665},{"r":27,"s":60057713},{"r":27,"s":60057760},{"r":27,"s":60057781},{"r":27,"s":60057800},
{"r":28,"s":60057130},{"r":28,"s":60057203},{"r":28,"s":60057251},{"r":28,"s":60057324},{"r":28,"s":60057403},{"r":28,"s":60057435},{"r":28,"s":60057523},{"r":28,"s":60057589},{"r":28,"s":60057620},{"r":28,"s":60057638},{"r":28,"s":60057665},{"r":28,"s":60057713},{"r":28,"s":60057800},
{"r":29,"s":60056966},{"r":29,"s":60056977},{"r":29,"s":60057324},{"r":29,"s":60057403},{"r":29,"s":60057435},{"r":29,"s":60057523},{"r":29,"s":60057589},{"r":29,"s":60057620},{"r":29,"s":60057638},{"r":29,"s":60057665},{"r":29,"s":60057713},{"r":29,"s":60057781},
{"r":30,"s":60056924},{"r":30,"s":60056928},{"r":30,"s":60056947},{"r":30,"s":60056966},{"r":30,"s":60056972},{"r":30,"s":60056982},{"r":30,"s":60057001},{"r":30,"s":60057324},{"r":30,"s":60057403},{"r":30,"s":60057435},{"r":30,"s":60057523},{"r":30,"s":60057589},{"r":30,"s":60057620},{"r":30,"s":60057638},
{"r":31,"s":60056924},{"r":31,"s":60056928},{"r":31,"s":60056947},{"r":31,"s":60056966},{"r":31,"s":60056972},{"r":31,"s":60056982},{"r":31,"s":60057001},{"r":31,"s":60057324},{"r":31,"s":60057403},{"r":31,"s":60057435},{"r":31,"s":60057523},
{"r":32,"s":60056892},{"r":32,"s":60056913},{"r":32,"s":60056924},{"r":32,"s":60056928},{"r":32,"s":60056947},{"r":32,"s":60056966},{"r":32,"s":60056972},{"r":32,"s":60056982},{"r":32,"s":60057403},{"r":32,"s":60057523},{"r":32,"s":60057589},
{"r":33,"s":60056892},{"r":33,"s":60056913},{"r":33,"s":60056924},{"r":33,"s":60056928},{"r":33,"s":60056947},{"r":33,"s":60056966},{"r":33,"s":60056972},{"r":33,"s":60056982},{"r":33,"s":60057324},{"r":33,"s":60057403},{"r":33,"s":60057435},
{"r":34,"s":60056892},{"r":34,"s":60056913},{"r":34,"s":60056924},{"r":34,"s":60056928},{"r":34,"s":60056947},{"r":34,"s":60056966},{"r":34,"s":60056972},{"r":34,"s":60056982},{"r":34,"s":60057324},{"r":34,"s":60057403},{"r":34,"s":60057435},{"r":34,"s":60057523},{"r":34,"s":60057589},
{"r":35,"s":60056892},{"r":35,"s":60056913},{"r":35,"s":60056924},{"r":35,"s":60056928},{"r":35,"s":60056947},{"r":35,"s":60056966},{"r":35,"s":60056972},{"r":35,"s":60056982},{"r":35,"s":60057324},{"r":35,"s":60057403},{"r":35,"s":60057435},{"r":35,"s":60057523},
{"r":36,"s":60056892},{"r":36,"s":60056913},{"r":36,"s":60056924},{"r":36,"s":60056928},{"r":36,"s":60056947},{"r":36,"s":60056966},{"r":36,"s":60056972},{"r":36,"s":60056982},{"r":36,"s":60057324},{"r":36,"s":60057375},{"r":36,"s":60057403},{"r":36,"s":60057435},
{"r":37,"s":60056866},{"r":37,"s":60056873},{"r":37,"s":60056938},{"r":37,"s":60056950},{"r":37,"s":60056972},{"r":37,"s":60057001},{"r":37,"s":60057152},{"r":37,"s":60057165},{"r":37,"s":60057180},{"r":37,"s":60057194},{"r":37,"s":60057209},{"r":37,"s":60057235},{"r":37,"s":60057375},{"r":37,"s":60057403},{"r":37,"s":60057435},{"r":37,"s":60057523},{"r":37,"s":60057620},{"r":37,"s":60057665},
{"r":38,"s":60056866},{"r":38,"s":60056873},{"r":38,"s":60056938},{"r":38,"s":60056950},{"r":38,"s":60056972},{"r":38,"s":60057001},{"r":38,"s":60057152},{"r":38,"s":60057165},{"r":38,"s":60057180},{"r":38,"s":60057194},{"r":38,"s":60057209},
{"r":39,"s":60056518},{"r":39,"s":60056527},{"r":39,"s":60056538},{"r":39,"s":60056557},{"r":39,"s":60056609},{"r":39,"s":60056626},{"r":39,"s":60056639},{"r":39,"s":60056673},{"r":39,"s":60056715},{"r":39,"s":60056737},{"r":39,"s":60056766},{"r":39,"s":60056799},{"r":39,"s":60056846},
{"r":40,"s":60056518},{"r":40,"s":60056527},{"r":40,"s":60056538},{"r":40,"s":60056557},{"r":40,"s":60056609},{"r":40,"s":60056626},{"r":40,"s":60056639},{"r":40,"s":60056673},{"r":40,"s":60056715},{"r":40,"s":60056737},{"r":40,"s":60056766},{"r":40,"s":60056799},
{"r":41,"s":60056518},{"r":41,"s":60056527},{"r":41,"s":60056538},{"r":41,"s":60056557},{"r":41,"s":60056597},{"r":41,"s":60056609},{"r":41,"s":60056626},{"r":41,"s":60056639},{"r":41,"s":60056673},{"r":41,"s":60056715},{"r":41,"s":60056737},{"r":41,"s":60056766},{"r":41,"s":60056799},{"r":41,"s":60056846},
{"r":42,"s":60056518},{"r":42,"s":60056527},{"r":42,"s":60056538},{"r":42,"s":60056557},{"r":42,"s":60056597},{"r":42,"s":60056612},{"r":42,"s":60056626},{"r":42,"s":60056645},{"r":42,"s":60056673},{"r":42,"s":60056737},{"r":42,"s":60056766},{"r":42,"s":60056799},{"r":42,"s":60056833},
{"r":43,"s":60056518},{"r":43,"s":60056527},{"r":43,"s":60056538},{"r":43,"s":60056557},{"r":43,"s":60056597},{"r":43,"s":60056609},{"r":43,"s":60056626},{"r":43,"s":60056639},{"r":43,"s":60056673},{"r":43,"s":60056715},{"r":43,"s":60056737},{"r":43,"s":60056766},{"r":43,"s":60056799},{"r":43,"s":60056846},
{"r":44,"s":60056518},{"r":44,"s":60056527},{"r":44,"s":60056538},{"r":44,"s":60056557},{"r":44,"s":60056597},{"r":44,"s":60056609},{"r":44,"s":60056626},{"r":44,"s":60056639},{"r":44,"s":60056673},{"r":44,"s":60056715},{"r":44,"s":60056737},{"r":44,"s":60056766},
{"r":45,"s":60056518},{"r":45,"s":60056527},{"r":45,"s":60056545},{"r":45,"s":60056557},{"r":45,"s":60056597},{"r":45,"s":60056612},{"r":45,"s":60056626},{"r":45,"s":60056639},{"r":45,"s":60056673},
{"r":46,"s":60056518},{"r":46,"s":60056527},{"r":46,"s":60056545},{"r":46,"s":60056557},{"r":46,"s":60056597},{"r":46,"s":60056612},{"r":46,"s":60056626},{"r":46,"s":60056639},{"r":46,"s":60056673},
{"r":59,"s":60057418},{"r":59,"s":60057425},{"r":59,"s":60057458},{"r":59,"s":60057483},{"r":59,"s":60057521},{"r":59,"s":60057578},{"r":59,"s":60057588},{"r":59,"s":60057652},{"r":59,"s":60057667},
{"r":63,"s":60056752},{"r":63,"s":60056780},{"r":63,"s":60056793},{"r":63,"s":60056846},{"r":63,"s":60056854},{"r":63,"s":60056896},{"r":63,"s":60056925},
{"r":64,"s":60056752},{"r":64,"s":60056846},{"r":64,"s":60056854},{"r":64,"s":60056896},{"r":64,"s":60056925},
{"r":65,"s":60056741},{"r":65,"s":60056752},{"r":65,"s":60056780},{"r":65,"s":60056793},{"r":65,"s":60056846},{"r":65,"s":60056854},{"r":65,"s":60056896},{"r":65,"s":60056925},
{"r":66,"s":60056752},{"r":66,"s":60056793},{"r":66,"s":60056846},{"r":66,"s":60056854},{"r":66,"s":60056896},{"r":66,"s":60056925},
{"r":67,"s":60056741},{"r":67,"s":60056752},{"r":67,"s":60056780},{"r":67,"s":60056793},{"r":67,"s":60056846},{"r":67,"s":60056854},{"r":67,"s":60056896},{"r":67,"s":60056925},
{"r":68,"s":60056741},{"r":68,"s":60056752},{"r":68,"s":60056780},{"r":68,"s":60056793},{"r":68,"s":60056846},{"r":68,"s":60056854},{"r":68,"s":60056896},{"r":68,"s":60056925}]
},
"encoding":{
"x":{"field":"s","type":"quantitative","scale":{"domain":[60056514,60057814],"nice":false,"zero":false},"axis":{"values":[60056564,60056963,60057014,60057313,60057364,60057763],"format":"d","title":"chr19 (bp)","titleFont":"Liberation Sans","titleFontSize":45,"titleFontWeight":"normal","titleColor":"#000","titlePadding":6,"labelFont":"Liberation Sans","labelFontSize":26,"labelColor":"#000","labelAngle":-40,"labelAlign":"right","labelBaseline":"middle","labelPadding":3,"labelOverlap":false,"labelFlush":false,"tickColor":"#000","tickWidth":2,"tickSize":18,"domain":false,"grid":false}},
"y":{"field":"r","type":"quantitative","scale":{"domain":[-5.5,82.45],"nice":false,"zero":false,"reverse":true},"axis":null}
},
"layer":[
{"data":{"name":"regions"},"mark":{"type":"rect"},"encoding":{"x2":{"field":"e"},"y2":{"field":"b"},"color":{"field":"kind","type":"nominal","legend":null,"scale":{"domain":["header","flank","outer","core"],"range":["#A9A9A9","#BDE5F2","#0A2FFF","#00D400"]}}}},
{"data":{"name":"thin"},"mark":{"type":"rule","color":"#000","strokeWidth":2.2},"encoding":{"y2":{"field":"b"}}},
{"data":{"name":"thick"},"mark":{"type":"rule","color":"#000","strokeWidth":3.4},"encoding":{"y2":{"field":"b"}}},
{"data":{"name":"frame"},"mark":{"type":"rule","color":"#000","strokeWidth":2},"encoding":{"x2":{"field":"e"}}},
{"data":{"name":"reads"},"mark":{"type":"rule","color":"#C8C8C8","strokeWidth":6},"encoding":{"x2":{"field":"e"}}},
{"data":{"name":"purple"},"mark":{"type":"tick","orient":"vertical","color":"#9040D0","size":6,"thickness":2.2,"opacity":1}},
{"data":{"name":"red"},"mark":{"type":"tick","orient":"vertical","color":"#FF2A00","size":6,"thickness":2.2,"opacity":1}},
{"data":{"name":"yellow"},"mark":{"type":"tick","orient":"vertical","color":"#FFFF00","size":6,"thickness":2.2,"opacity":1}},
{"data":{"name":"white"},"mark":{"type":"rule","color":"#FFFFFF","strokeWidth":6},"encoding":{"x2":{"field":"e"}}},
{"data":{"name":"black"},"mark":{"type":"rule","color":"#000000","strokeWidth":6},"encoding":{"x2":{"field":"e"}}},
{"data":{"name":"brace"},"mark":{"type":"line","color":"#444","strokeWidth":1.6,"interpolate":"linear","clip":false},"encoding":{"detail":{"field":"g"},"order":{"field":"o","type":"quantitative"}}},
{"data":{"name":"labels"},"mark":{"type":"text","align":"left","baseline":"middle","font":"Liberation Sans","fontSize":33,"color":"#222"},"encoding":{"text":{"field":"label"}}}
]}
